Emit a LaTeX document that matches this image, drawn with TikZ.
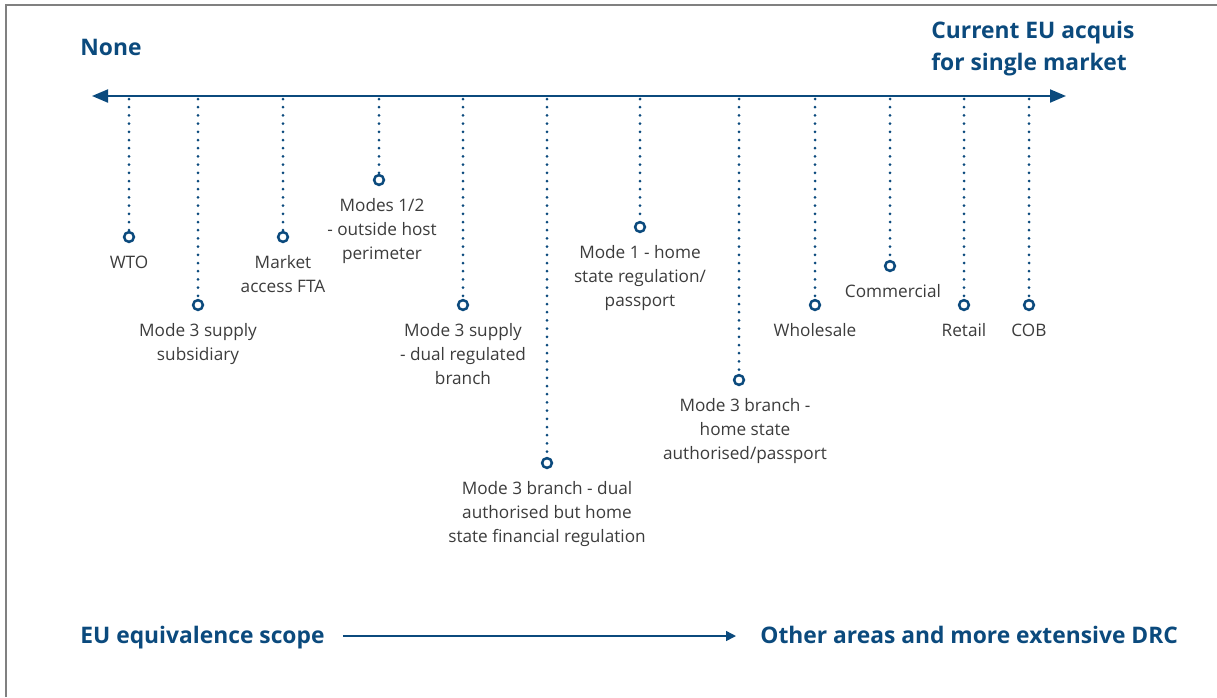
\documentclass[tikz,border=0pt]{standalone}
\usepackage{fontspec}
\setmainfont{Open Sans}
\usetikzlibrary{arrows.meta,positioning}
\definecolor{ukblue}{HTML}{0B4A7D}
\definecolor{txtgrey}{HTML}{3C3C3C}
\tikzset{
        ring/.style={circle,draw=ukblue,line width=1.25pt,fill=white,minimum size=4.9pt,inner sep=0pt},
        stem/.style={ukblue,line width=1.5pt,line cap=round,dash pattern=on 0pt off 4.1pt},
        lbl/.style={text=txtgrey,font=\fontsize{8.6}{12}\selectfont,align=center,inner sep=0pt},
        heading/.style={text=ukblue,font=\fontsize{11.4}{16}\selectfont\bfseries,inner sep=0pt},
        axisline/.style={ukblue,line width=1pt,{Triangle[length=8pt,width=6.5pt]}-{Triangle[length=8pt,width=6.5pt]}},
        flow/.style={ukblue,line width=0.75pt,-{Triangle[length=5pt,width=5pt]}},
        frame/.style={draw=gray,line width=0.75pt}
}
\begin{document}
\begin{tikzpicture}[x=0.5pt,y=-0.5pt]
        \useasboundingbox (0,0) rectangle (1217,697);
        \draw[frame] (6,697) -- (6,5) -- (1217,5);

        \node[heading,anchor=base west] (none) at (80,55) {None};
        \node[heading,anchor=north west,align=left] (acquis) at (931,21) {Current EU acquis\\for single market};

        \coordinate (axis west) at (92,96);
        \coordinate (axis east) at (1066,96);
        \draw[axisline] (axis west) -- (axis east);

        \coordinate (wto top) at (129,99);
        \coordinate (subs top) at (198,99);
        \coordinate (fta top) at (283,99);
        \coordinate (modes top) at (379,99);
        \coordinate (dual top) at (463,99);
        \coordinate (branch top) at (547,99);
        \coordinate (home top) at (640,99);
        \coordinate (passport top) at (739,99);
        \coordinate (wholesale top) at (815,99);
        \coordinate (commercial top) at (890,99);
        \coordinate (retail top) at (964,99);
        \coordinate (cob top) at (1029,99);

        \node[ring] (wto) at (129,237) {};
        \node[ring] (subs) at (198,305) {};
        \node[ring] (fta) at (283,237) {};
        \node[ring] (modes) at (379,180) {};
        \node[ring] (dual) at (463,305) {};
        \node[ring] (branch) at (547,463) {};
        \node[ring] (home) at (640,227) {};
        \node[ring] (passport) at (739,380) {};
        \node[ring] (wholesale) at (815,305) {};
        \node[ring] (commercial) at (890,266) {};
        \node[ring] (retail) at (964,305) {};
        \node[ring] (cob) at (1029,305) {};

        \draw[stem] (wto top) -- (wto.north);
        \draw[stem] (subs top) -- (subs.north);
        \draw[stem] (fta top) -- (fta.north);
        \draw[stem] (modes top) -- (modes.north);
        \draw[stem] (dual top) -- (dual.north);
        \draw[stem] (branch top) -- (branch.north);
        \draw[stem] (home top) -- (home.north);
        \draw[stem] (passport top) -- (passport.north);
        \draw[stem] (wholesale top) -- (wholesale.north);
        \draw[stem] (commercial top) -- (commercial.north);
        \draw[stem] (retail top) -- (retail.north);
        \draw[stem] (cob top) -- (cob.north);

        \node[lbl,below=6pt of wto] (wto text) {WTO};
        \node[lbl,below=6pt of subs] (subs text) {Mode 3 supply\\subsidiary};
        \node[lbl,below=6pt of fta] (fta text) {Market\\access FTA};
        \node[lbl,below=6pt of modes,xshift=1.5pt] (modes text) {Modes 1/2\\- outside host\\perimeter};
        \node[lbl,below=6pt of dual] (dual text) {Mode 3 supply\\- dual regulated\\branch};
        \node[lbl,below=6pt of branch] (branch text) {Mode 3 branch - dual\\authorised but home\\state financial regulation};
        \node[lbl,below=6pt of home] (home text) {Mode 1 - home\\state regulation/\\passport};
        \node[lbl,below=6pt of passport,xshift=3pt] (passport text) {Mode 3 branch -\\home state\\authorised/passport};
        \node[lbl,below=6pt of wholesale] (wholesale text) {Wholesale};
        \node[lbl,below=6pt of commercial,xshift=1.5pt] (commercial text) {Commercial};
        \node[lbl,below=6pt of retail] (retail text) {Retail};
        \node[lbl,below=6pt of cob] (cob text) {COB};

        \node[heading,anchor=base west] (scope) at (80,643) {EU equivalence scope};
        \node[heading,anchor=base west] (other) at (760,643) {Other areas and more extensive DRC};
        \draw[flow] ([shift={(9pt,3.5pt)}]scope.base east) -- ([shift={(-12pt,3.5pt)}]other.base west);
\end{tikzpicture}
\end{document}
